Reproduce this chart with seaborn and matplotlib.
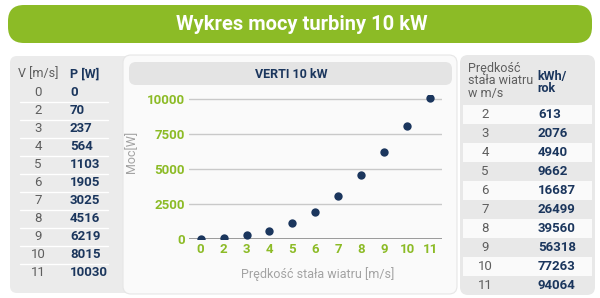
import matplotlib
matplotlib.use("Agg")
import matplotlib.pyplot as plt
from matplotlib.patches import FancyBboxPatch, Rectangle
import seaborn as sns
import pandas as pd

# ---- data ----
speeds = ["0", "2", "3", "4", "5", "6", "7", "8", "9", "10", "11"]
power_w = [0, 70, 237, 564, 1103, 1905, 3025, 4516, 6219, 8015, 10030]
yearly_speeds = ["2", "3", "4", "5", "6", "7", "8", "9", "10", "11"]
yearly_kwh = [613, 2076, 4940, 9662, 16687, 26499, 39560, 56318, 77263, 94064]
y_ticks = [0, 2500, 5000, 7500, 10000]

title = "Wykres mocy turbiny 10 kW"
chart_title = "VERTI 10 kW"
x_label = "Prędkość stała wiatru [m/s]"
y_label = "Moc[W]"
left_headers = ["V [m/s]", "P [W]"]
right_headers = ["Prędkość\nstała wiatru\nw m/s", "kWh/\nrok"]

GREEN = "#8CBB26"
NAVY = "#1B365D"
GRAY_TXT = "#5E5E5E"
LIGHT_TXT = "#A3A3A3"

sns.set_theme(style="white")
plt.rcParams["font.family"] = ["Roboto", "DejaVu Sans"]

fig = plt.figure(figsize=(6, 2.98), dpi=100)
fig.patch.set_facecolor("white")

bg = fig.add_axes([0, 0, 1, 1], zorder=0)
bg.set_xlim(0, 600)
bg.set_ylim(298, 0)
bg.axis("off")

def rbox(x0, y0, x1, y1, r, fc, ec="none", lw=0, z=1):
    p = FancyBboxPatch((x0 + r, y0 + r), (x1 - x0) - 2 * r, (y1 - y0) - 2 * r,
                       boxstyle=f"round,pad={r}", fc=fc, ec=ec, lw=lw, zorder=z)
    bg.add_patch(p)

# title banner
rbox(8, 5, 592, 43, 16, GREEN)
bg.text(302, 24, title, color="white", fontsize=14.5, fontweight="bold",
        ha="center", va="center", zorder=5)

# left table panel
rbox(10, 56, 135, 293, 7, "#EBEBEB")
bg.text(38, 74, left_headers[0], color=GRAY_TXT, fontsize=9, ha="center", va="center", zorder=5)
bg.text(70, 74, left_headers[1], color=NAVY, fontsize=9, fontweight="bold", ha="left", va="center", zorder=5)
for i, (v, p) in enumerate(zip(speeds, power_w)):
    yy = 93 + 18 * i
    bg.text(38, yy, v, color=GRAY_TXT, fontsize=9.5, ha="center", va="center", zorder=5)
    bg.text(70, yy, str(p), color=NAVY, fontsize=9.5, fontweight="bold", ha="left", va="center", zorder=5)
    if i < len(speeds) - 1:
        bg.plot([20, 108], [yy + 9, yy + 9], color="white", lw=1, zorder=4)

# middle panel
rbox(123, 55, 457, 294, 8, "#FAFAFA", ec="#E6E6E6", lw=0.8, z=2)
rbox(129, 62, 452, 85, 7, "#E4E4E4", z=3)
bg.text(291, 74, chart_title, color=NAVY, fontsize=9, fontweight="bold",
        ha="center", va="center", zorder=5)

# right table panel
rbox(460, 55, 595, 295, 8, "#E8E8E8")
bg.text(468, 62, right_headers[0], color=GRAY_TXT, fontsize=9, ha="left", va="top",
        linespacing=0.95, zorder=5)
bg.text(537, 70, right_headers[1], color=NAVY, fontsize=9, fontweight="bold", ha="left", va="top",
        linespacing=0.95, zorder=5)
for i, (v, k) in enumerate(zip(yearly_speeds, yearly_kwh)):
    yy = 114.3 + 19 * i
    if i % 2 == 0:
        bg.add_patch(Rectangle((463, yy - 9.5), 129, 19, fc="#FAFAFA", ec="none", zorder=2))
    bg.text(485, yy, v, color=GRAY_TXT, fontsize=9.5, ha="center", va="center", zorder=5)
    bg.text(538, yy, str(k), color=NAVY, fontsize=9.5, fontweight="bold", ha="left", va="center", zorder=5)

# chart
ax = fig.add_axes([189.2 / 600, (298 - 238.7) / 298, 252.3 / 600, 144.2 / 298], zorder=6)
ax.set_facecolor("none")
df = pd.DataFrame({"speed": speeds, "power": power_w})
sns.stripplot(data=df, x="speed", y="power", order=speeds, jitter=False,
              color=NAVY, size=6, linewidth=0, ax=ax, zorder=4)
ax.set_xlim(-0.5, len(speeds) - 0.5)
ax.set_ylim(0, 10300)
ax.set_yticks(y_ticks)
ax.set_yticklabels([str(t) for t in y_ticks])
for t in y_ticks[1:]:
    ax.axhline(t, color="#C9C9C9", lw=1, zorder=1)
ax.axhline(0, color="#8A8A8A", lw=1.2, zorder=2)
for s in ax.spines.values():
    s.set_visible(False)
ax.tick_params(axis="both", length=0, colors=GREEN, labelsize=9.5, pad=3)
for lab in ax.get_xticklabels() + ax.get_yticklabels():
    lab.set_fontweight("bold")
    lab.set_color(GREEN)
ax.set_xlabel(x_label, color=LIGHT_TXT, fontsize=9)
ax.set_ylabel(y_label, color=LIGHT_TXT, fontsize=9)
ax.xaxis.set_label_coords(0.51, -0.196)
ax.yaxis.set_label_coords(-0.203, 0.60)
ax.grid(False)

fig.savefig("out.png", dpi=100, facecolor="white")
